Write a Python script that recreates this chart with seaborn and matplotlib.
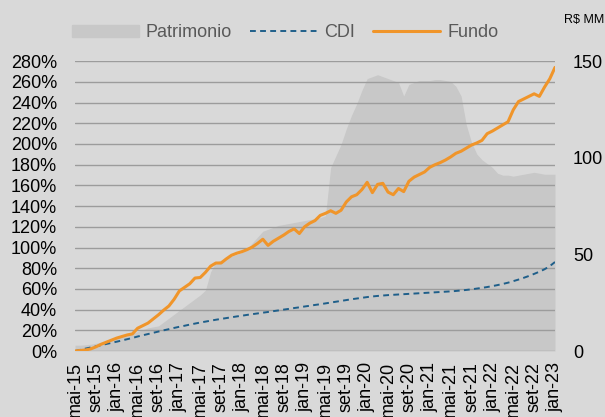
import pandas as pd
import matplotlib.pyplot as plt
import seaborn as sns
from matplotlib.patches import Patch
from matplotlib.lines import Line2D

# Rotulos do eixo x (a cada 4 meses)
meses = ["mai-15", "set-15", "jan-16", "mai-16", "set-16", "jan-17", "mai-17", "set-17",
         "jan-18", "mai-18", "set-18", "jan-19", "mai-19", "set-19", "jan-20", "mai-20",
         "set-20", "jan-21", "mai-21", "set-21", "jan-22", "mai-22", "set-22", "jan-23"]

# Rentabilidade acumulada do fundo (%), mensal de mai-15 a jan-23
fundo = [0, 0.5, 1, 2, 4, 6.5, 8.5, 10.5, 12.5, 14,
         15.5, 16.5, 22, 24.5, 27, 31, 35, 39.5, 43.5, 50,
         58, 61.5, 65, 70.5, 71, 76, 82, 85, 85, 89,
         92.5, 94.5, 96, 98, 100.5, 104, 108, 102, 106, 109,
         112, 115.5, 118, 113.5, 120, 123.5, 126, 131, 133, 135.5,
         133, 136, 144, 149, 151, 156, 163, 153, 161, 162,
         153.5, 151, 157, 154, 164, 168, 170.5, 173, 177.5, 180,
         182, 184.5, 187.5, 191, 193, 196, 199, 201, 203.5, 210,
         212.5, 215.5, 218.5, 221.5, 233, 241, 243.5, 246, 248.5, 246,
         255, 263, 274]

# CDI acumulado (%)
cdi = [0, 1.1, 2.3, 3.4, 4.5, 5.6, 6.8, 7.9, 9.0, 10.2,
       11.4, 12.6, 14.0, 15.2, 16.4, 17.6, 18.8, 20.0, 21.1, 22.3,
       23.4, 24.4, 25.5, 26.5, 27.5, 28.4, 29.3, 30.2, 31.0, 31.8,
       32.6, 33.4, 34.1, 34.9, 35.6, 36.3, 37.0, 37.7, 38.5, 39.2,
       40.0, 40.7, 41.5, 42.2, 43.0, 43.7, 44.5, 45.2, 46.0, 46.8,
       47.6, 48.4, 49.2, 50.0, 50.7, 51.4, 52.1, 52.7, 53.2, 53.6,
       54.0, 54.3, 54.6, 54.9, 55.2, 55.5, 55.8, 56.1, 56.4, 56.7,
       57.0, 57.3, 57.6, 58.0, 58.5, 59.0, 59.6, 60.3, 61.0, 61.8,
       62.7, 63.7, 64.8, 66.0, 67.5, 69.0, 70.7, 72.5, 74.5, 76.6,
       79.0, 82.0, 86.0]

# Patrimonio (R$ MM)
patrimonio = [3, 3, 3.2, 3.5, 4, 4.5, 5, 6, 7, 8,
              9, 9.5, 10, 11, 12, 12.5, 13, 15, 17, 19,
              21, 23, 25, 27, 29, 31.5, 41, 46, 47, 48,
              49, 50, 51, 53, 56, 59, 62, 63, 64, 65,
              65.5, 66, 66.5, 67, 67.5, 68, 68.5, 69, 70, 95,
              101, 107, 115, 122, 128, 135, 141, 142, 143, 142,
              141, 140, 139, 132, 138, 139, 140, 140, 140, 140.5,
              140.5, 140, 139.5, 137, 132, 117, 108, 102, 99, 97,
              95, 92, 91, 91, 90.5, 91, 91.5, 92, 92.5, 92,
              91.5, 91.5, 91.5]

df = pd.DataFrame({"mes": range(len(fundo)), "Fundo": fundo,
                   "CDI": cdi, "Patrimonio": patrimonio})

sns.set_theme(style="white")
plt.rcParams["font.family"] = ["Liberation Sans", "DejaVu Sans"]

cor_fundo = "#f0952a"
cor_cdi = "#1f5f8a"
cor_area = "#c8c8c8"

fig = plt.figure(figsize=(6.05, 4.17), dpi=100, facecolor="#d9d9d9")
ax = fig.add_axes([75 / 605, 1 - 351 / 417, 480 / 605, (351 - 61.2) / 417])
ax2 = ax.twinx()

# Area do patrimonio no eixo direito
ax2.fill_between(df["mes"], df["Patrimonio"], color=cor_area, lw=0)
ax2.set_ylim(0, 150)
ax2.set_yticks([0, 50, 100, 150])
ax2.tick_params(axis="y", length=0, pad=13, labelsize=13, labelcolor="black")

# Linhas no eixo esquerdo
sns.lineplot(data=df, x="mes", y="CDI", ax=ax, color=cor_cdi, lw=1.4,
             linestyle=(0, (3, 2.2)))
sns.lineplot(data=df, x="mes", y="Fundo", ax=ax, color=cor_fundo, lw=2.2)

ax.set_zorder(ax2.get_zorder() + 1)
ax.patch.set_visible(False)
ax2.patch.set_visible(False)

ax.set_ylim(0, 280)
ax.set_yticks(range(0, 281, 20))
ax.set_yticklabels([f"{v}%" for v in range(0, 281, 20)])
ax.set_xlim(0, 92)
ax.set_xticks(range(0, 93, 4))
ax.set_xticklabels(meses, rotation=90)
ax.tick_params(axis="y", length=0, pad=13, labelsize=13, labelcolor="black")
ax.tick_params(axis="x", length=0, pad=8, labelsize=13, labelcolor="black")
ax.set_xlabel("")
ax.set_ylabel("")
ax.yaxis.grid(True, color="#9c9c9c", lw=1)
ax.xaxis.grid(False)

for a in (ax, ax2):
    for s in a.spines.values():
        s.set_visible(False)

handles = [Patch(color=cor_area, label="Patrimonio"),
           Line2D([], [], color=cor_cdi, lw=1.4, linestyle=(0, (3, 2.2)), label="CDI"),
           Line2D([], [], color=cor_fundo, lw=2.2, label="Fundo")]
fig.legend(handles=handles, loc="center", bbox_to_anchor=(0.471, 0.921), ncol=3,
           frameon=False, fontsize=13, labelcolor="#595959", handlelength=3.7,
           handletextpad=0.4, columnspacing=1.0)

fig.text(0.998, 1 - 20 / 417, "R$ MM", ha="right", va="center", fontsize=9, color="black")

plt.savefig("out.png", dpi=100, facecolor=fig.get_facecolor())
